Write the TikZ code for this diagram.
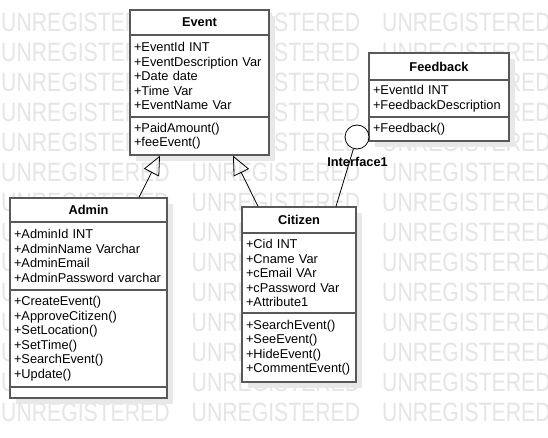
\documentclass[tikz,border=0pt]{standalone}
\usepackage{fontspec}
\setmainfont{Liberation Sans}
\usetikzlibrary{arrows.meta,shadows}

\tikzset{
  classpart/.style={shape=rectangle,draw=black!65,fill=white,line width=1.3pt,
    inner xsep=4pt,inner ysep=0pt,align=left,font=\fontsize{12.8}{14.5}\selectfont,
    drop shadow={shadow xshift=6pt,shadow yshift=-6pt,fill=black!9,opacity=1}},
  classname/.style={classpart,align=center,font=\bfseries\fontsize{12.8}{14.5}\selectfont},
  watermark/.style={text=black!10,inner sep=0pt,anchor=west,font=\fontsize{26.5}{30}\selectfont},
  generalize/.style={-{Triangle[open,length=19pt,width=17pt]},draw=black,line width=0.8pt},
  lollipop/.style={shape=circle,draw=black,fill=white,minimum size=24pt,inner sep=0pt,line width=0.8pt},
}

\begin{document}
\begin{tikzpicture}[x=1pt,y=-1pt]
\useasboundingbox[fill=white] (0,0) rectangle (548,438);
% watermark
\foreach \r in {0,...,13}
  \foreach \c in {0,1,2}
    \node[watermark] at (1+190.5*\c,22+30*\r) {\scalebox{0.8}[1]{UNREGISTERED}};

% Event
\node[classname,minimum width=139pt,minimum height=25pt,text width=131pt] (event) at (199.5,22.5) {Event};
\node[classpart,minimum width=139pt,minimum height=82pt,text width=131pt] (eventattr) at (199.5,76) {+EventId INT\\+EventDescription Var\\+Date date\\+Time Var\\+EventName Var};
\node[classpart,minimum width=139pt,minimum height=38pt,text width=131pt] (eventops) at (199.5,136) {+PaidAmount()\\+feeEvent()};

% Admin
\node[classname,minimum width=157pt,minimum height=24pt,text width=149pt] (admin) at (88.5,210) {Admin};
\node[classpart,minimum width=157pt,minimum height=68pt,text width=149pt] (adminattr) at (88.5,256) {+AdminId INT\\+AdminName Varchar\\+AdminEmail\\+AdminPassword varchar};
\node[classpart,minimum width=157pt,minimum height=97pt,text width=149pt] (adminops) at (88.5,338.5) {+CreateEvent()\\+ApproveCitizen()\\+SetLocation()\\+SetTime()\\+SearchEvent()\\+Update()};
\node[classpart,minimum width=157pt,minimum height=11pt,text width=149pt] (adminend) at (88.5,392.5) {};

% Citizen
\node[classname,minimum width=114pt,minimum height=26pt,text width=106pt] (citizen) at (299,220) {Citizen};
\node[classpart,minimum width=114pt,minimum height=80pt,text width=106pt] (citizenattr) at (299,273) {+Cid INT\\+Cname Var\\+cEmail VAr\\+cPassword Var\\+Attribute1};
\node[classpart,minimum width=114pt,minimum height=69pt,text width=106pt] (citizenops) at (299,347.5) {+SearchEvent()\\+SeeEvent()\\+HideEvent()\\+CommentEvent()};

% Feedback
\node[classname,minimum width=140pt,minimum height=27pt,text width=132pt] (feedback) at (439,66.5) {Feedback};
\node[classpart,minimum width=140pt,minimum height=37pt,text width=132pt] (feedbackattr) at (439,98.5) {+EventId INT\\+FeedbackDescription};
\node[classpart,minimum width=140pt,minimum height=24pt,text width=132pt] (feedbackops) at (439,129) {+Feedback()};

% interface
\node[lollipop] (iface1) at (357,137) {};
\draw[line width=0.8pt] (iface1) -- ([xshift=37pt]citizen.north);
\node[font=\bfseries\fontsize{12.8}{14.5}\selectfont] (iface1label) at (357.5,162) {Interface1};

% generalizations
\draw[generalize] ([xshift=50.5pt]admin.north) -- ([xshift=-39.5pt]eventops.south);
\draw[generalize] ([xshift=-41pt]citizen.north) -- ([xshift=33.5pt]eventops.south);
\end{tikzpicture}
\end{document}
